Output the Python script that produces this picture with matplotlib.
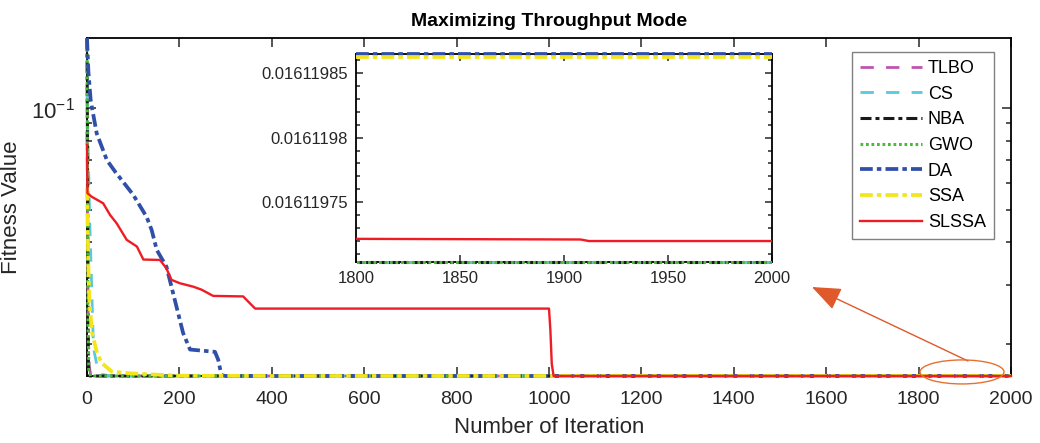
import numpy as np
import matplotlib
matplotlib.use("Agg")
import matplotlib.pyplot as plt
from matplotlib.patches import Ellipse, Rectangle
from matplotlib.ticker import (FixedLocator, MultipleLocator, NullFormatter,
                               FuncFormatter, LogLocator)

plt.rcParams['font.family'] = ['Liberation Sans', 'DejaVu Sans']
plt.rcParams['mathtext.fontset'] = 'custom'
plt.rcParams['mathtext.rm'] = 'Liberation Sans'
plt.rcParams['mathtext.it'] = 'Liberation Sans:italic'
plt.rcParams['mathtext.bf'] = 'Liberation Sans:bold'

# convergence curves (iteration, fitness)
tlbo_it = [0, 1, 2, 3, 5, 8, 15, 40, 2000]
tlbo_val = [0.085, 0.05, 0.03, 0.021, 0.0172, 0.01625, 0.01614, 0.0161197033, 0.0161197033]

cs_it = [0, 3, 6, 10, 14, 22, 30, 50, 100, 2000]
cs_val = [0.109, 0.07, 0.046, 0.03, 0.0195, 0.0172, 0.0163, 0.01615, 0.0161197033, 0.0161197033]

nba_it = [0, 1, 2, 3, 5, 10, 2000]
nba_val = [0.16, 0.08, 0.03, 0.0175, 0.01614, 0.0161197033, 0.0161197033]

gwo_it = [0, 1, 2, 4, 8, 2000]
gwo_val = [0.1607, 0.07, 0.025, 0.0168, 0.0161197033, 0.0161197033]

da_it = [0, 3, 8, 21, 43, 61, 100, 129, 140, 151, 172, 208, 223, 277, 284, 291, 300, 2000]
da_val = [0.1607, 0.128, 0.105, 0.084, 0.07, 0.0647, 0.0553, 0.0476, 0.0435, 0.038,
          0.0339, 0.0216, 0.0193, 0.019, 0.018, 0.0162, 0.016119865, 0.016119865]

ssa_it = [0, 3, 5, 11, 22, 32, 54, 97, 200, 400, 2000]
ssa_val = [0.058, 0.0339, 0.027, 0.0216, 0.0188, 0.0176, 0.0166, 0.0164, 0.01615,
           0.016119863, 0.016119863]

slssa_it = [0, 1, 10, 35, 50, 64, 86, 108, 122, 158, 172, 183, 201, 230, 248, 273, 338,
            353, 364, 1000, 1003, 1006, 1010, 1800, 1908, 1912, 2000]
slssa_val = [0.0776, 0.0559, 0.0546, 0.0522, 0.0482, 0.0456, 0.0407, 0.0389, 0.0356,
             0.0355, 0.0335, 0.031, 0.0303, 0.0296, 0.029, 0.0278, 0.0277, 0.0264, 0.0255,
             0.0255, 0.022, 0.0175, 0.016119722, 0.0161197215, 0.016119721, 0.0161197198,
             0.0161197198]

labels = ['TLBO', 'CS', 'NBA', 'GWO', 'DA', 'SSA', 'SLSSA']
series = [(tlbo_it, tlbo_val), (cs_it, cs_val), (nba_it, nba_val), (gwo_it, gwo_val),
          (da_it, da_val), (ssa_it, ssa_val), (slssa_it, slssa_val)]
styles = [
    dict(color='#BE55AF', lw=2.0, dashes=(4.8, 4.4)),
    dict(color='#5BC8DC', lw=2.0, dashes=(4.8, 4.4)),
    dict(color='#1a1a1a', lw=2.2, dashes=(3.6, 1.3, 1.3, 1.3)),
    dict(color='#4DB93A', lw=2.2, dashes=(0.9, 0.9)),
    dict(color='#2F4FA8', lw=2.7, dashes=(3.4, 1.1, 1.2, 1.1)),
    dict(color='#F2E61A', lw=2.7, dashes=(3.4, 1.1, 1.2, 1.1)),
    dict(color='#EE1C25', lw=1.7),
]

ymin, ymax = 0.0161197033, 0.1607

fig = plt.figure(figsize=(10.4, 4.43), dpi=100)
ax = fig.add_axes([87 / 1040, 1 - 376 / 443, 924 / 1040, 338 / 443])

for (it, val), lab, st in zip(series, labels, styles):
    ax.plot(it, val, label=lab, clip_on=False, zorder=3, **st)

ax.set_yscale('log')
ax.set_xlim(0, 2000)
ax.set_ylim(ymin, ymax)
ax.set_xticks(np.arange(0, 2001, 200))
ax.yaxis.set_major_locator(LogLocator(base=10, numticks=10))
ax.yaxis.set_major_formatter(FuncFormatter(
    lambda v, p: r'$\mathregular{10^{%d}}$' % round(np.log10(v))))
ax.yaxis.set_minor_locator(LogLocator(base=10, subs=np.arange(2, 10), numticks=10))
ax.yaxis.set_minor_formatter(NullFormatter())
ax.tick_params(which='both', direction='in', top=True, right=True,
               labelsize=14, colors='#262626', width=1.1)
ax.tick_params(which='major', length=6.5, pad=11)
ax.tick_params(axis='y', which='major', labelsize=16, pad=9)
ax.tick_params(which='minor', length=3.5)
for sp in ax.spines.values():
    sp.set_linewidth(1.3)
ax.set_xlabel('Number of Iteration', fontsize=16, color='#262626', labelpad=6)
ax.set_ylabel('Fitness Value', fontsize=16, color='#262626', labelpad=6)
ax.set_title('Maximizing Throughput Mode', fontsize=14, fontweight='bold', pad=9)

leg = ax.legend(loc='upper right', bbox_to_anchor=(994 / 1040, 1 - 52 / 443),
                bbox_transform=fig.transFigure, borderaxespad=0, fontsize=13,
                handlelength=3.4, handletextpad=0.35, labelspacing=0.48,
                fancybox=False, framealpha=1, edgecolor='#808080',
                borderpad=0.45)
leg.get_frame().set_linewidth(1.0)

# zoom marker and arrow
ell = Ellipse((0.947, 0.012), 0.0909, 0.071, transform=ax.transAxes,
              fill=False, edgecolor='#E8702F', lw=1.0, clip_on=False, zorder=5)
ax.add_patch(ell)
ax.annotate('', xy=(0.7846, 0.2633), xytext=(0.9535, 0.0444),
            xycoords='axes fraction', textcoords='axes fraction',
            arrowprops=dict(arrowstyle='-|>,head_length=1.0,head_width=0.4',
                            color='#E0592A', lw=1.0, mutation_scale=18,
                            shrinkA=0, shrinkB=0))

# inset
axin = fig.add_axes([356 / 1040, 1 - 262.3 / 443, 416 / 1040, 208.3 / 443])
clip_box = Rectangle((0, -0.03), 1, 1.06, transform=axin.transAxes,
                     fill=False, visible=False)
axin.add_patch(clip_box)
for (it, val), st in zip(series, styles):
    ln, = axin.plot(it, val, zorder=3, **st)
    ln.set_clip_path(clip_box)
axin.set_xlim(1800, 2000)
axin.set_ylim(0.0161197033, 0.016119865)
axin.set_xticks(np.arange(1800, 2001, 50))
axin.yaxis.set_major_locator(FixedLocator([0.01611975, 0.0161198, 0.01611985]))
axin.yaxis.set_major_formatter(FuncFormatter(lambda v, p: f'{v:.8g}'))
axin.yaxis.set_minor_locator(MultipleLocator(1e-8))
axin.tick_params(which='both', direction='in', top=True, right=True,
                 labelsize=12, colors='#262626', width=1.1)
axin.tick_params(which='major', length=5, pad=6)
axin.tick_params(which='minor', length=3)
axin.tick_params(axis='x', which='minor', length=0)
for sp in axin.spines.values():
    sp.set_linewidth(1.3)

fig.savefig('out.png', dpi=100)
